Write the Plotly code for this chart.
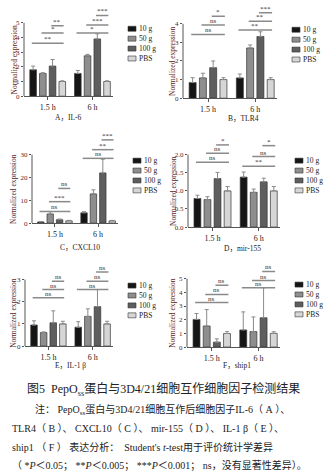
import plotly.graph_objects as go

W, H = 323, 476
FONT = "Liberation Serif, Noto Sans CJK SC"
TXT = "#5a1e1e"

groups = ["1.5 h", "6 h"]
doses = ["10 g", "50 g", "100 g", "PBS"]
colors = ["#151515", "#8e8e8e", "#5e5e5e", "#d6d6d6"]

# values per dose: [1.5 h, 6 h]
il6_mean = [[1.80, 1.55], [1.55, 2.75], [2.05, 3.90], [1.00, 1.00]]
il6_err = [[0.25, 0.20], [0.05, 0.10], [0.45, 0.35], [0.05, 0.05]]
il6_sig = [["**", "*", "**"], ["*", "***", "***"]]
il6_sig_y = [[3.6, 4.3, 4.8], [4.3, 4.85, 5.5]]

tlr4_mean = [[0.84, 1.09], [1.09, 2.70], [1.64, 3.32], [1.00, 1.00]]
tlr4_err = [[0.26, 0.21], [0.25, 0.16], [0.36, 0.25], [0.10, 0.10]]
tlr4_sig = [["ns", "ns", "*"], ["**", "**", "***"]]
tlr4_sig_y = [[3.43, 3.93, 4.4], [3.66, 4.14, 4.6]]

cxcl10_mean = [[0.5, 4.5], [4.0, 12.8], [1.5, 22.0], [1.0, 1.0]]
cxcl10_err = [[0.2, 0.5], [1.0, 1.8], [0.3, 6.0], [0.2, 0.2]]
cxcl10_sig = [["ns", "***", "ns"], ["ns", "**", "***"]]
cxcl10_sig_y = [[5.1, 9.4, 15.2], [28.4, 32.2, 36.5]]

mir155_mean = [[0.79, 1.38], [0.76, 0.96], [1.34, 1.25], [1.00, 1.00]]
mir155_err = [[0.09, 0.14], [0.08, 0.09], [0.17, 0.10], [0.12, 0.12]]
mir155_sig = [["ns", "ns", "*"], ["**", "ns", "*"]]
mir155_sig_y = [[1.79, 2.04, 2.27], [1.68, 1.95, 2.25]]

il1b_mean = [[0.95, 0.85], [0.61, 1.34], [1.05, 1.78], [1.00, 1.00]]
il1b_err = [[0.19, 0.25], [0.03, 0.34], [0.54, 0.77], [0.12, 0.12]]
il1b_sig = [["ns", "ns", "ns"], ["ns", "ns", "ns"]]
il1b_sig_y = [[2.18, 2.55, 2.93], [2.55, 2.93, 3.34]]

ship1_mean = [[2.02, 1.25], [1.54, 1.13], [0.36, 2.14], [0.99, 1.00]]
ship1_err = [[0.43, 1.32], [1.20, 1.07], [0.24, 2.19], [0.14, 0.12]]
ship1_sig = [["ns", "ns", "ns"], ["ns", "ns", "ns"]]
ship1_sig_y = [[3.25, 3.85, 4.52], [4.33, 4.86, 5.53]]

titles = ["A，IL-6", "B，TLR4", "C，CXCL10", "D，mir-155", "E，IL-1 β", "F，ship1"]
y_top_ticks = [5, 4, 30, 2.0, 3, 5]
y_dticks = [1, 1, 10, 0.5, 1, 1]

panels = [
    (il6_mean, il6_err, il6_sig, il6_sig_y),
    (tlr4_mean, tlr4_err, tlr4_sig, tlr4_sig_y),
    (cxcl10_mean, cxcl10_err, cxcl10_sig, cxcl10_sig_y),
    (mir155_mean, mir155_err, mir155_sig, mir155_sig_y),
    (il1b_mean, il1b_err, il1b_sig, il1b_sig_y),
    (ship1_mean, ship1_err, ship1_sig, ship1_sig_y),
]

# geometry in pixels: x0, x1, y of zero, y of top tick, domain top
geom = [
    (24, 113, 97, 23, 8),
    (183, 277, 99, 24, 8),
    (32, 118, 225, 156, 133),
    (188, 280, 229, 156, 133),
    (25, 113, 349, 282, 262),
    (187, 280, 350, 281, 262),
]
ytitle_x = [14, 173, 14, 174, 14, 173]
title_pos = [(68, 118), (243, 119), (80, 250), (242, 251), (70, 369), (237, 369)]

BARGAP = 0.13
SLOT = (1 - BARGAP) / 4
XR = [-0.53, 1.46]

fig = go.Figure()
shapes, annos = [], []
lay = {}


def px(x):
    return x / W


def py(y):
    return 1 - y / H


for p, (mean, err, sig, sig_y) in enumerate(panels):
    n = p + 1
    suf = "" if n == 1 else str(n)
    xa, ya = "x" + suf, "y" + suf
    x0, x1, yz, yt, ytop = geom[p]
    ytv = y_top_ticks[p]
    rtop = ytv * (yz - ytop) / (yz - yt)
    for d in range(4):
        fig.add_trace(go.Bar(
            x=[0, 1], y=mean[d], xaxis=xa, yaxis=ya, name=doses[d],
            showlegend=False, offsetgroup=str(d),
            marker=dict(color=colors[d], line=dict(color="#333333", width=0.7)),
            error_y=dict(type="data", array=err[d], arrayminus=[0, 0],
                         symmetric=False, color="#8a8a8a", thickness=1, width=2),
        ))
    lay["xaxis" + suf] = dict(
        domain=[px(x0), px(x1)], range=XR, anchor=ya, showgrid=False, zeroline=False,
        showline=True, linecolor="#555", linewidth=1, tickvals=[0, 1], ticktext=groups,
        ticks="outside", ticklen=3, tickcolor="#555",
        tickfont=dict(family=FONT, size=8, color="#222"), fixedrange=True)
    nt = int(round(ytv / y_dticks[p]))
    tv = [i * y_dticks[p] for i in range(nt + 1)]
    lay["yaxis" + suf] = dict(
        domain=[py(yz), py(ytop)], range=[0, rtop], anchor=xa, showgrid=False,
        zeroline=False, showline=False, tickvals=tv,
        tickformat=".1f" if y_dticks[p] < 1 else "d",
        ticks="outside", ticklen=2, tickcolor="#555",
        tickfont=dict(family=FONT, size=7, color=TXT), fixedrange=True)
    shapes.append(dict(type="line", xref=f"{xa} domain", yref=ya, x0=0, x1=0,
                       y0=0, y1=ytv, line=dict(color="#555", width=1)))
    # significance brackets
    for g in range(2):
        for k in range(3):
            xa0 = g + (k - 1.5) * SLOT - 0.03
            xa1 = g + 1.5 * SLOT + 0.03
            lvl = sig_y[g][k]
            shapes.append(dict(type="line", xref=xa, yref=ya, x0=xa0, x1=xa1,
                               y0=lvl, y1=lvl, line=dict(color="#8a8a8a", width=1.5)))
            annos.append(dict(xref=xa, yref=ya, x=(xa0 + xa1) / 2, y=lvl,
                              text=sig[g][k], showarrow=False, yanchor="bottom",
                              yshift=-2, font=dict(family=FONT, size=7, color="#333")))
    # y title
    annos.append(dict(xref="paper", yref="paper", x=px(ytitle_x[p]), y=py((yz + yt) / 2),
                      text="Normalized expression", textangle=-90, showarrow=False,
                      xanchor="center", yanchor="middle",
                      font=dict(family=FONT, size=7.5, color=TXT)))
    # manual legend
    lx = x1 + 15
    for d in range(4):
        ry = yt + 6 + d * 10
        shapes.append(dict(type="rect", xref="paper", yref="paper",
                           x0=px(lx), x1=px(lx + 8), y0=py(ry + 2.5), y1=py(ry - 2.5),
                           fillcolor=colors[d], line=dict(color="#333", width=0.6)))
        annos.append(dict(xref="paper", yref="paper", x=px(lx + 9), y=py(ry),
                          text=doses[d], showarrow=False, xanchor="left",
                          yanchor="middle", font=dict(family=FONT, size=7.5, color="#222")))
    tx, ty = title_pos[p]
    annos.append(dict(xref="paper", yref="paper", x=px(tx), y=py(ty), text=titles[p],
                      showarrow=False, xanchor="center", yanchor="middle",
                      font=dict(family=FONT, size=7.5, color="#222")))

S = "\u00a0"
caption = "图5" + S * 2 + "PepO<sub>ss</sub>蛋白与3D4/21细胞互作细胞因子检测结果"
notes = [
    (33, 413, f"注：{S}PepO<sub>ss</sub>蛋白与3D4/21细胞互作后细胞因子IL-6（{S}A{S}）、"),
    (10, 432, f"TLR4（{S}B{S}）、{S}CXCL10（{S}C{S}）、{S}mir-155（{S}D{S}）、{S}IL-1{S}β（{S}E{S}）、"),
    (10, 451, f"ship1{S}（{S}F{S}）{S}表达分析：{S}{S}Student's{S}<i>t</i>-test用于评价统计学差异"),
    (10, 469, f"（{S}*<i>P</i>＜0.05；{S}**<i>P</i>＜0.005；{S}***<i>P</i>＜0.001；{S}ns，没有显著性差异）。"),
]
annos.append(dict(xref="paper", yref="paper", x=px(163), y=py(393), text=caption,
                  showarrow=False, xanchor="center", yanchor="middle",
                  font=dict(family=FONT, size=12, color="#222")))
for nx, ny, t in notes:
    annos.append(dict(xref="paper", yref="paper", x=px(nx), y=py(ny), text=t,
                      showarrow=False, xanchor="left", yanchor="middle",
                      font=dict(family=FONT, size=10, color="#222")))

fig.update_layout(
    width=W, height=H, margin=dict(l=0, r=0, t=0, b=0),
    paper_bgcolor="white", plot_bgcolor="white",
    barmode="group", bargap=BARGAP, bargroupgap=0.32,
    shapes=shapes, annotations=annos, showlegend=False, **lay)

fig.write_html("out.html", config={"displayModeBar": False})
